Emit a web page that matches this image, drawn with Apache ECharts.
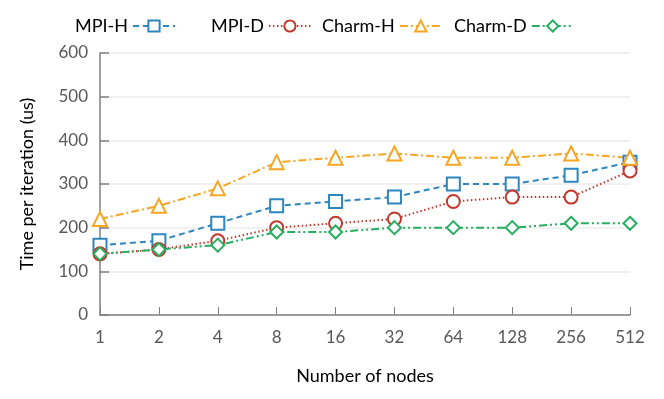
<!DOCTYPE html>
<html><head><meta charset="utf-8">
<script src="https://cdn.jsdelivr.net/npm/echarts@6/dist/echarts.min.js"></script>
<style>html,body{margin:0;padding:0;background:#fff}#c{width:664px;height:399px}</style>
</head><body><div id="c"></div>
<script>
const categories = ['1','2','4','8','16','32','64','128','256','512'];
const mpiH = [160,170,210,250,260,270,300,300,320,350];
const mpiD = [140,150,170,200,210,220,260,270,270,330];
const charmH = [220,250,290,350,360,370,360,360,370,360];
const charmD = [140,150,160,190,190,200,200,200,210,210];
const seriesNames = ['MPI-H','MPI-D','Charm-H','Charm-D'];

const FONT = 'Lato';
const colors = ['#2e86c1','#c0392b','#f5a623','#27ae60'];
const dashes = [[6,4],[1.5,2.5],[8,3,2,3],[8,3,2,3,2,3]];
const symbols = ['emptyRect','emptyCircle','emptyTriangle','emptyDiamond'];
const datasets = [mpiH, mpiD, charmH, charmD];
const legendLefts = [70, 206, 317, 449];

const chart = echarts.init(document.getElementById('c'));
chart.setOption({
  animation:false,
  textStyle:{fontFamily:FONT},
  grid:{left:100,right:34,top:53,bottom:84,containLabel:false},
  legend: seriesNames.map((n,i)=>({
    data:[n], left:legendLefts[i], top:12, align:'right',
    itemWidth:42, itemHeight:14, itemGap:6,
    textStyle:{fontFamily:FONT,fontSize:18,color:'#000'}
  })),
  xAxis:{
    type:'category', data:categories, boundaryGap:false,
    name:'Number of nodes', nameLocation:'middle', nameGap:52,
    nameTextStyle:{fontFamily:FONT,fontSize:18,color:'#000'},
    axisLine:{lineStyle:{color:'#808080',width:1.5}},
    axisTick:{inside:true,length:8,lineStyle:{color:'#808080'}},
    axisLabel:{fontFamily:FONT,fontSize:17,color:'#595959',margin:14}
  },
  yAxis:{
    type:'value', min:0, max:600, interval:100,
    name:'Time per iteration (us)', nameLocation:'middle', nameGap:64,
    nameTextStyle:{fontFamily:FONT,fontSize:18,color:'#000'},
    axisLine:{show:true,lineStyle:{color:'#808080',width:1.5}},
    axisTick:{show:true,inside:true,length:9,lineStyle:{color:'#808080',width:1.5}},
    axisLabel:{fontFamily:FONT,fontSize:17,color:'#595959',margin:12},
    splitLine:{lineStyle:{color:'#ececec',width:1.5}}
  },
  series: seriesNames.map((n,i)=>({
    name:n, type:'line', data:datasets[i],
    symbol:symbols[i], symbolSize: i===2?14:13,
    color:colors[i],
    lineStyle:{color:colors[i],width:2,type:dashes[i]},
    itemStyle:{color:colors[i],borderWidth:2.2}
  }))
});
</script></body></html>
